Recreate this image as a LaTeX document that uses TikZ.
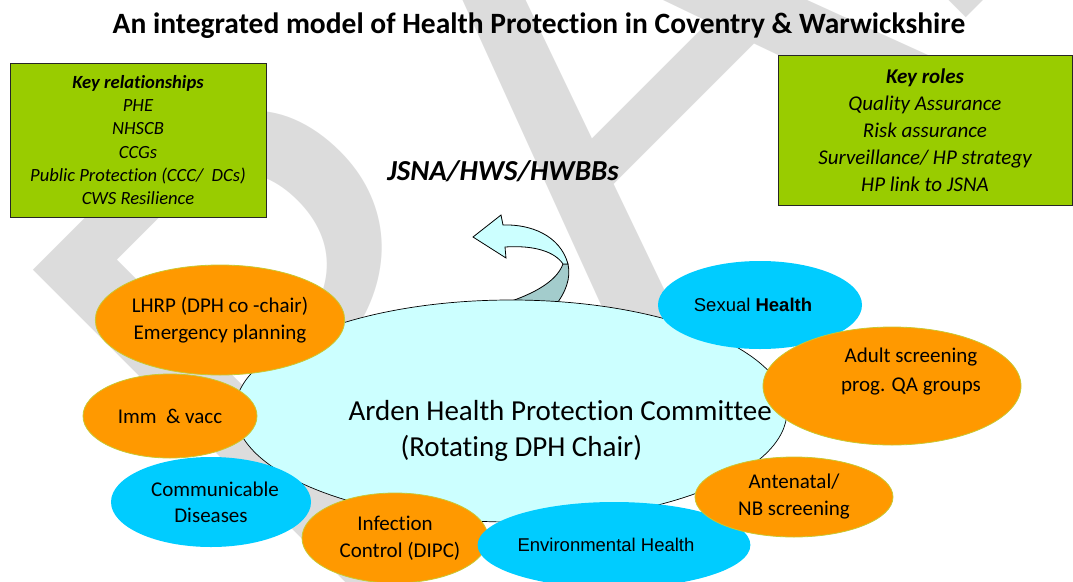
\documentclass[tikz,border=0pt]{standalone}
\usepackage{fontspec}
\setmainfont{Carlito}[Ligatures=NoCommon]
\newfontfamily\arialfont{Liberation Sans}
\usetikzlibrary{shapes.geometric}
\definecolor{keygreen}{HTML}{99CC00}
\definecolor{hporange}{HTML}{FF9900}
\definecolor{hpcyan}{HTML}{00CCFF}
\definecolor{hplight}{HTML}{CCFFFF}
\definecolor{hpshade}{HTML}{A3CCCC}
\definecolor{hpedge}{HTML}{C8C832}
\definecolor{wmgrey}{HTML}{DCDCDC}

\begin{document}
\begin{tikzpicture}[x=1pt, y=-1pt,
    keybox/.style={draw=black!85, line width=0.9pt, fill=keygreen, align=center, inner sep=0pt},
    orangeblob/.style={ellipse, draw=hpedge, line width=0.8pt, fill=hporange, inner sep=0pt,
      align=center, font=\fontsize{21}{27}\selectfont},
    blueblob/.style={ellipse, fill=hpcyan, inner sep=0pt, align=center,
      font=\fontsize{21}{26}\selectfont}]
  \useasboundingbox (0,0) rectangle (1073,581);

  % watermark, only the part that shows on the page
  \begin{scope}
    \clip (0,0) -- (1073,0) -- (1073,581) -- (340,581) -- (0,246) -- cycle;
    \node[text=wmgrey, font=\fontsize{750}{750}\selectfont, rotate=45, anchor=base west,
      inner sep=0pt] (WM) at (9,975) {DRAFT};
  \end{scope}

  \node[font=\bfseries\fontsize{29.5}{35}\selectfont] (T) at (539,26)
    {An integrated model of Health Protection in Coventry \& Warwickshire};

  \node[keybox, minimum width=256, minimum height=154, font=\itshape\fontsize{18.6}{23.2}\selectfont]
    (KRel) at (138,140) {\textbf{Key relationships}\\PHE\\NHSCB\\CCGs\\Public Protection (CCC/~~DCs)\\CWS Resilience};
  \node[keybox, minimum width=294, minimum height=150, font=\itshape\fontsize{21}{27}\selectfont]
    (KRol) at (925,130) {\textbf{Key roles}\\Quality Assurance\\Risk assurance\\Surveillance/ HP strategy\\HP link to JSNA};

  \node[font=\bfseries\itshape\fontsize{29}{35}\selectfont] (JSNA) at (503,171) {JSNA/HWS/HWBBs};

  % curved arrow up to JSNA
  \draw[fill=hpshade, line width=0.8pt] (568,264) .. controls (571,278) and (566,292) .. (555,306)
    -- (496,306) .. controls (530,296) and (556,283) .. (563,264) -- cycle;
  \draw[fill=hplight, line width=0.8pt] (473,237) -- (501,215) -- (503,225)
    .. controls (530,224) and (560,235) .. (568,264) -- (563,264)
    .. controls (555,252) and (535,245) .. (505,247) -- (506,258) -- cycle;

  \node[ellipse, draw, line width=0.7pt, fill=hplight, minimum width=552, minimum height=222]
    (AHPC) at (511,411) {};
  \node[font=\fontsize{29}{36}\selectfont, align=left, anchor=west] (AHPCt) at (345,431)
    {Arden Health Protection Committee\\\hspace*{52pt}(Rotating DPH Chair)};

  \node[orangeblob, minimum width=220, minimum height=110] (LHRP) at (220,320)
    {LHRP (DPH co~-chair)\\Emergency planning};
  \node[orangeblob, minimum width=174, minimum height=84] (IMM) at (170,416) {Imm~~\& vacc};
  \node[blueblob, minimum width=200, minimum height=90] (CD) at (211,502)
    {\hspace*{8pt}Communicable\\Diseases};
  \node[orangeblob, minimum width=186, minimum height=90] (IC) at (395,538)
    {Infection\\\hspace*{10pt}Control (DIPC)};
  \node[blueblob, minimum width=224, minimum height=86, font=\arialfont\fontsize{18.5}{22}\selectfont]
    (EH) at (614,545) {Environmental Health\hspace*{16pt}};
  \node[orangeblob, minimum width=198, minimum height=80] (ANB) at (794,497)
    {Antenatal/\\NB screening};
  \node[blueblob, minimum width=204, minimum height=88, font=\arialfont\fontsize{18.5}{22}\selectfont]
    (SH) at (760,305) {Sexual \textbf{Health}\hspace*{14pt}};
  \node[orangeblob, minimum width=258, minimum height=118] (ASQ) at (892,386) {};
  \node[font=\fontsize{21}{29}\selectfont, align=center] (ASQt) at (911,372)
    {Adult screening\\prog. QA groups};
\end{tikzpicture}
\end{document}
